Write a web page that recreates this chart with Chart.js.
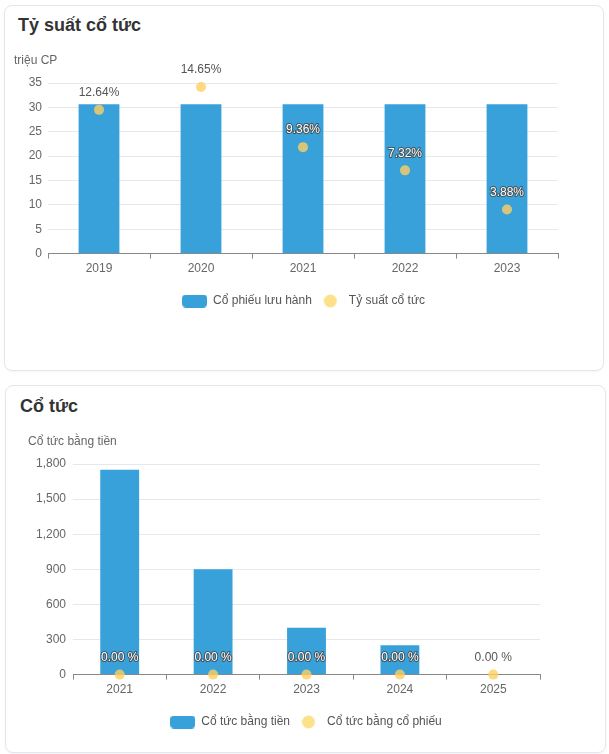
<!DOCTYPE html>
<html>
<head>
<meta charset="utf-8">
<script src="https://cdn.jsdelivr.net/npm/chart.js@4.4.1/dist/chart.umd.min.js"></script>
<style>
  html, body { margin: 0; padding: 0; background: #fff; }
  body { width: 609px; height: 754px; position: relative; overflow: hidden; font-family: "Liberation Sans", Arial, sans-serif; }
  .card { position: absolute; background: #fff; border: 1px solid #e3e6ea; border-radius: 8px; box-shadow: 0 1px 2px rgba(0,0,0,0.04); box-sizing: border-box; }
  .title { position: absolute; font-weight: bold; font-size: 18px; color: #333; white-space: nowrap; }
  .wrap { position: absolute; }
</style>
</head>
<body>
<div class="card" style="left:4px; top:5px; width:600px; height:366px;"></div>
<div class="card" style="left:5px; top:385px; width:601px; height:368px;"></div>
<div class="title" style="left:18px; top:15px;">Tỷ suất cổ tức</div>
<div class="title" style="left:20px; top:396px;">Cổ tức</div>
<div class="wrap" style="left:10px; top:48px; width:583px; height:269px;"><canvas id="c1"></canvas></div>
<div class="wrap" style="left:24px; top:429px; width:560px; height:309px;"><canvas id="c2"></canvas></div>
<script>
// ---- data ----
const years1 = ['2019', '2020', '2021', '2022', '2023'];
const sharesOutstanding = [30.66, 30.66, 30.66, 30.66, 30.66];
const dividendYield = [12.64, 14.65, 9.36, 7.32, 3.88];

const years2 = ['2021', '2022', '2023', '2024', '2025'];
const cashDividend = [1750, 900, 400, 250, 0];
const stockDividend = [0, 0, 0, 0, 0];

const y1Ticks = { min: 0, max: 35, step: 5 };
const y2Ticks = { min: 0, max: 1800, step: 300 };

// ---- styling ----
const FONT = "'Liberation Sans', Arial, sans-serif";
const BLUE = '#38a1da';
const YELLOW = 'rgba(255, 208, 96, 0.8)';
const YELLOW_LEG = '#fde08a';

function makeBoxIcon() {
  const c = document.createElement('canvas');
  c.width = 25; c.height = 13;
  const g = c.getContext('2d');
  g.fillStyle = BLUE;
  g.beginPath();
  g.roundRect(0, 0, 25, 13, 4);
  g.fill();
  return c;
}
function makeDotIcon() {
  const c = document.createElement('canvas');
  c.width = 14; c.height = 14;
  const g = c.getContext('2d');
  g.fillStyle = YELLOW_LEG;
  g.beginPath();
  g.arc(7, 7, 6.5, 0, Math.PI * 2);
  g.fill();
  return c;
}
const icons = [makeBoxIcon(), makeDotIcon()];

const labelFormats = {
  c1: v => Number(v).toFixed(2) + '%',
  c2: v => Number(v).toFixed(2) + ' %'
};

const pointLabels = {
  id: 'pointLabels',
  afterDatasetsDraw(chart) {
    const ctx = chart.ctx;
    const meta = chart.getDatasetMeta(1);
    const barMeta = chart.getDatasetMeta(0);
    const fmt = labelFormats[chart.canvas.id];
    ctx.save();
    ctx.font = '12px ' + FONT;
    ctx.textAlign = 'center';
    ctx.textBaseline = 'middle';
    ctx.lineJoin = 'round';
    meta.data.forEach((pt, i) => {
      const v = chart.data.datasets[1].data[i];
      const txt = fmt(v);
      const x = pt.x, y = pt.y - 17;
      const bar = barMeta.data[i];
      const overBar = bar && y - 4 > bar.y;
      if (overBar) {
        ctx.lineWidth = 2;
        ctx.strokeStyle = 'rgba(70,70,70,0.85)';
        ctx.strokeText(txt, x, y);
        ctx.fillStyle = '#ffffff';
      } else {
        ctx.fillStyle = '#555';
      }
      ctx.fillText(txt, x, y);
    });
    ctx.restore();
  }
};

function buildChart(id, labels, barLabel, barData, dotLabel, dotData, yt, axisTitle, dotMax, barPct, yPad, yWidth, rightWidth) {
  return new Chart(document.getElementById(id), {
    data: {
      labels: labels,
      datasets: [
        { type: 'bar', label: barLabel, data: barData, backgroundColor: BLUE, borderWidth: 0,
          categoryPercentage: 0.8, barPercentage: barPct, order: 1, yAxisID: 'y' },
        { type: 'line', label: dotLabel, data: dotData, showLine: false, pointRadius: 5, pointHoverRadius: 5,
          pointBackgroundColor: YELLOW, pointBorderWidth: 0, backgroundColor: YELLOW, borderColor: YELLOW,
          order: 0, yAxisID: 'y1', clip: false }
      ]
    },
    options: {
      responsive: true,
      maintainAspectRatio: false,
      animation: false,
      layout: { padding: { left: 4, right: 0, top: 0, bottom: 0 } },
      scales: {
        x: {
          grid: { display: true, drawOnChartArea: false, drawTicks: true, tickLength: 5, color: '#888', offset: true },
          border: { display: true, color: '#888', width: 1 },
          ticks: { color: '#666', font: { size: 12, family: FONT }, padding: 3 },
          afterFit: (s) => { s.height += 10; }
        },
        y: {
          min: yt.min, max: yt.max,
          ticks: { stepSize: yt.step, color: '#666', font: { size: 12, family: FONT }, padding: yPad },
          grid: { color: '#e6e8eb', drawTicks: false },
          border: { display: false },
          afterFit: (s) => { s.width = yWidth; }
        },
        y1: {
          display: true, min: 0, max: dotMax, position: 'right',
          ticks: { display: false },
          grid: { display: false, drawOnChartArea: false, drawTicks: false },
          border: { display: false },
          afterFit: (s) => { s.width = rightWidth; }
        }
      },
      plugins: {
        title: { display: true, text: axisTitle, align: 'start', color: '#666',
                 font: { size: 12, weight: 'normal', family: FONT }, padding: { top: 5, bottom: 15.6 } },
        legend: {
          position: 'bottom',
          labels: {
            usePointStyle: true, pointStyleWidth: 25, color: '#555', padding: 6,
            font: { size: 12, family: FONT },
            generateLabels: (chart) => chart.data.datasets.map((ds, i) => ({
              text: ds.label, pointStyle: icons[i], fillStyle: i === 0 ? BLUE : YELLOW_LEG,
              strokeStyle: 'rgba(0,0,0,0)', lineWidth: 0, hidden: !chart.isDatasetVisible(i),
              datasetIndex: i, fontColor: '#555'
            }))
          }
        },
        tooltip: { enabled: false }
      }
    },
    plugins: [pointLabels]
  });
}

buildChart('c1', years1, 'Cổ phiếu lưu hành', sharesOutstanding, 'Tỷ suất cổ tức', dividendYield,
  y1Ticks, 'triệu CP', 15, 0.5, 6, 34, 35);

buildChart('c2', years2, 'Cổ tức bằng tiền', cashDividend, 'Cổ tức bằng cổ phiếu', stockDividend,
  y2Ticks, 'Cổ tức bằng tiền', 1, 0.52, 7, 45, 44);
</script>
</body>
</html>
